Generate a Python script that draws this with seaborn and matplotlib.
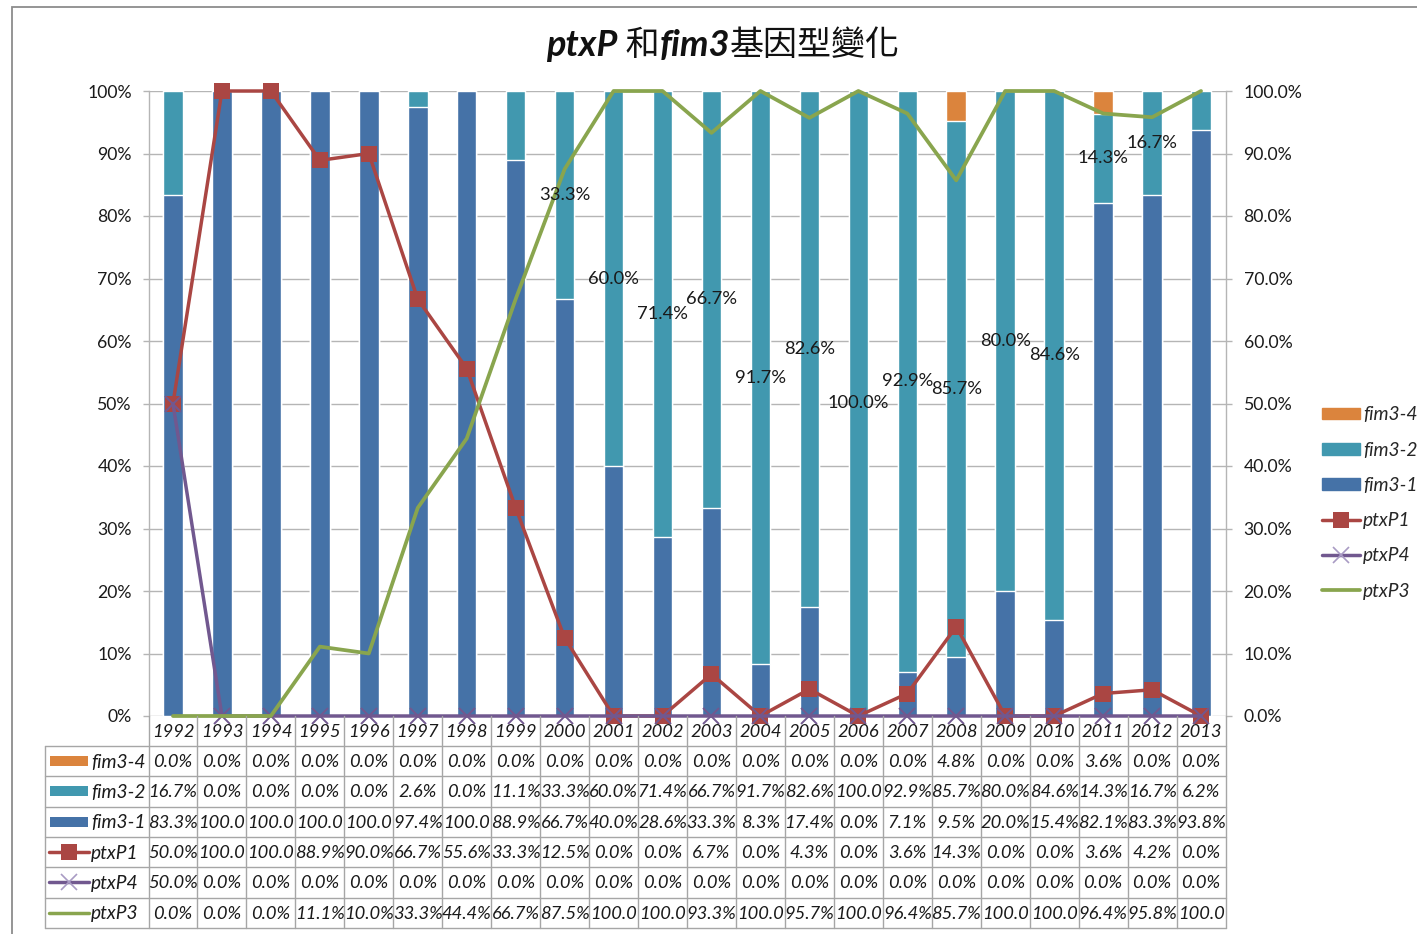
import numpy as np
import matplotlib
matplotlib.use("Agg")
import matplotlib.pyplot as plt
import matplotlib.transforms as mtransforms
import seaborn as sns
from matplotlib.lines import Line2D
from matplotlib.patches import Patch, Rectangle
from matplotlib.offsetbox import TextArea, HPacker, AnnotationBbox

# ---------------- data ----------------
years = [str(y) for y in range(1992, 2014)]
fim3_4 = [0, 0, 0, 0, 0, 0, 0, 0, 0, 0, 0, 0, 0, 0, 0, 0, 4.8, 0, 0, 3.6, 0, 0]
fim3_2 = [16.7, 0, 0, 0, 0, 2.6, 0, 11.1, 33.3, 60.0, 71.4, 66.7, 91.7, 82.6,
          100.0, 92.9, 85.7, 80.0, 84.6, 14.3, 16.7, 6.2]
fim3_1 = [83.3, 100, 100, 100, 100, 97.4, 100, 88.9, 66.7, 40.0, 28.6, 33.3,
          8.3, 17.4, 0.0, 7.1, 9.5, 20.0, 15.4, 82.1, 83.3, 93.8]
ptxP1 = [50.0, 100, 100, 88.9, 90.0, 66.7, 55.6, 33.3, 12.5, 0, 0, 6.7, 0, 4.3,
         0, 3.6, 14.3, 0, 0, 3.6, 4.2, 0]
ptxP4 = [50.0, 0, 0, 0, 0, 0, 0, 0, 0, 0, 0, 0, 0, 0, 0, 0, 0, 0, 0, 0, 0, 0]
ptxP3 = [0, 0, 0, 11.1, 10.0, 33.3, 44.4, 66.7, 87.5, 100, 100, 93.3, 100, 95.7,
         100, 96.4, 85.7, 100, 100, 96.4, 95.8, 100]
labeled_years = years[8:21]  # years whose fim3-2 value is labelled on the bars

C_F4, C_F2, C_F1 = "#DB843D", "#4198AF", "#4572A7"
C_P1, C_P4, C_P3 = "#AA4643", "#71588F", "#89A54E"

# ---------------- style ----------------
sns.set_style("white")
plt.rcParams["font.family"] = ["Lato", "Noto Sans CJK TC", "DejaVu Sans"]
FS_TICK = 12.7
FS_LBL = 13.2
FS_TAB = 13.2
FS_HDR = 13.8
TXT = "#1a1a1a"
GRID = "#b5b5b5"

W, H = 1417, 934
fig = plt.figure(figsize=(W / 100, H / 100), dpi=100)

def fx(px):
    return px / W

def fy(py):
    return 1 - py / H

L, R, T, B = 148.5, 1225.5, 91, 716
ax = fig.add_axes([fx(L), fy(B), fx(R - L), (B - T) / H])

n = len(years)
x = np.arange(n)
s1 = np.array(fim3_1)
s2 = s1 + np.array(fim3_2)
s3 = s2 + np.array(fim3_4)

for vals, col in [(s3, C_F4), (s2, C_F2), (s1, C_F1)]:
    sns.barplot(x=years, y=vals, order=years, color=col, saturation=1,
                width=0.4, errorbar=None, ax=ax, zorder=2)

ax.set_xlim(-0.5, n - 0.5)
ax.set_ylim(0, 100)
ax.set_yticks(np.arange(0, 101, 10))
ax.set_yticklabels([f"{v}%" for v in range(0, 101, 10)], fontsize=FS_TICK, color=TXT)
ax.set_xticks([])
ax.set_xlabel("")
ax.set_ylabel("")
ax.yaxis.grid(True, color=GRID, linewidth=1)
ax.set_axisbelow(True)
ax.tick_params(axis="y", length=4, width=1, color=GRID, pad=8, direction="out", left=True)
for sp in ["top", "right", "bottom"]:
    ax.spines[sp].set_visible(False)
ax.spines["left"].set_color(GRID)
ax.spines["left"].set_linewidth(1)

ax2 = ax.twinx()
ax2.set_position(ax.get_position())
sns.lineplot(x=x, y=ptxP1, ax=ax2, color=C_P1, linewidth=2.5, marker="s",
             markersize=11, markeredgecolor=C_P1, markeredgewidth=0)
sns.lineplot(x=x, y=ptxP4, ax=ax2, color=C_P4, linewidth=2.5, marker="x",
             markersize=11, markeredgecolor=C_P4, markeredgewidth=1.4)
sns.lineplot(x=x, y=ptxP3, ax=ax2, color=C_P3, linewidth=2.7)
for ln in ax2.lines:
    ln.set_clip_on(False)
ax2.set_xlim(-0.5, n - 0.5)
ax2.set_ylim(0, 100)
ax2.set_yticks(np.arange(0, 101, 10))
ax2.set_yticklabels([f"{v:.1f}%" for v in range(0, 101, 10)], fontsize=FS_TICK, color=TXT)
ax2.tick_params(axis="y", length=4, width=1, color=GRID, pad=9, direction="out", right=True)
ax2.set_xticks([])
ax2.set_xlabel("")
ax2.set_ylabel("")
for sp in ["top", "left", "bottom"]:
    ax2.spines[sp].set_visible(False)
ax2.spines["right"].set_color(GRID)
ax2.spines["right"].set_linewidth(1)

# data labels on fim3-2
for i, yr in enumerate(years):
    if yr in labeled_years:
        ax2.text(i, fim3_1[i] + fim3_2[i] / 2, f"{fim3_2[i]:.1f}%", ha="center",
                 va="center", fontsize=FS_LBL, color=TXT, zorder=10)

# ---------------- title ----------------
tp_b = dict(fontsize=26, fontweight="bold", fontstyle="italic", family="Lato", color="#111111")
tp_c = dict(fontsize=24.5, family="Noto Sans CJK TC", color="#111111")
title = HPacker(children=[TextArea("ptxP", textprops=tp_b),
                          TextArea(" 和", textprops=tp_c),
                          TextArea("fim3", textprops=tp_b),
                          TextArea("基因型變化", textprops=tp_c)],
                align="baseline", pad=0, sep=0)
fig.add_artist(AnnotationBbox(title, (fx(723), fy(46)), xycoords="figure fraction",
                              frameon=False, box_alignment=(0.5, 0.5)))

# ---------------- data table ----------------
bt = mtransforms.blended_transform_factory(ax.transData, fig.transFigure)
row_h = 30.33
top_rows = 746
hdr_left_px = 45
hdr_left = (hdr_left_px - L) / ((R - L) / n) - 0.5
LC = "#a6a6a6"

for k in range(n + 1):
    fig.add_artist(Line2D([k - 0.5, k - 0.5], [fy(B), fy(top_rows + 6 * row_h)],
                          transform=bt, color=LC, lw=1))
fig.add_artist(Line2D([hdr_left, hdr_left], [fy(top_rows), fy(top_rows + 6 * row_h)],
                      transform=bt, color=LC, lw=1))
for r in range(7):
    yy = fy(top_rows + r * row_h)
    fig.add_artist(Line2D([hdr_left, n - 0.5], [yy, yy], transform=bt, color=LC, lw=1))

for i, yr in enumerate(years):
    fig.text(i, fy((B + top_rows) / 2 + 1), yr, transform=bt, ha="center", va="center",
             fontsize=FS_TAB, fontstyle="italic", color=TXT)

def fmt(v):
    return "100.0" if v >= 100 else f"{v:.1f}%"

rows = [("fim3-4", fim3_4, "bar", C_F4, None),
        ("fim3-2", fim3_2, "bar", C_F2, None),
        ("fim3-1", fim3_1, "bar", C_F1, None),
        ("ptxP1", ptxP1, "line", C_P1, "s"),
        ("ptxP4", ptxP4, "line", C_P4, "x"),
        ("ptxP3", ptxP3, "line", C_P3, None)]

for r, (name, vals, kind, col, mk) in enumerate(rows):
    yc = top_rows + (r + 0.5) * row_h
    if kind == "bar":
        fig.add_artist(Rectangle((fx(50), fy(yc + 5)), fx(38), 10 / H,
                                 transform=fig.transFigure, color=col, lw=0))
    else:
        fig.add_artist(Line2D([fx(49), fx(89)], [fy(yc), fy(yc)], transform=fig.transFigure,
                              color=col, lw=2.5))
        if mk:
            fig.add_artist(Line2D([fx(69)], [fy(yc)], transform=fig.transFigure, color=col,
                                  marker=mk, markersize=11 if mk == "s" else 12,
                                  markeredgewidth=0 if mk == "s" else 1.2, lw=0,
                                  markeredgecolor=col if mk == "s" else "#a99bc4"))
    fig.text(fx(91), fy(yc + 1), name, ha="left", va="center", fontsize=FS_HDR,
             fontstyle="italic", color=TXT)
    for i, v in enumerate(vals):
        fig.text(i, fy(yc + 1), fmt(v), transform=bt, ha="center", va="center",
                 fontsize=FS_TAB, fontstyle="italic", color=TXT)

# ---------------- legend ----------------
handles = [Patch(color=C_F4), Patch(color=C_F2), Patch(color=C_F1),
           Line2D([], [], color=C_P1, lw=2.5, marker="s", markersize=11, markeredgewidth=0),
           Line2D([], [], color=C_P4, lw=2.5, marker="x", markersize=12,
                  markeredgecolor="#a99bc4", markeredgewidth=1.2),
           Line2D([], [], color=C_P3, lw=2.7)]
labels = ["fim3-4", "fim3-2", "fim3-1", "ptxP1", "ptxP4", "ptxP3"]
fig.legend(handles, labels, loc="center left", bbox_to_anchor=(fx(1322), fy(503)),
           frameon=False, prop=dict(size=FS_HDR, style="italic"), labelspacing=0.95,
           handlelength=2.0, handleheight=0.55, handletextpad=0.15, borderpad=0,
           borderaxespad=0)

# chart border
fig.add_artist(Rectangle((fx(12), -0.1), 1.2, fy(7) + 0.1, transform=fig.transFigure,
                         fill=False, edgecolor="#8c8c8c", lw=1.3))

fig.savefig("out.png", dpi=100)
